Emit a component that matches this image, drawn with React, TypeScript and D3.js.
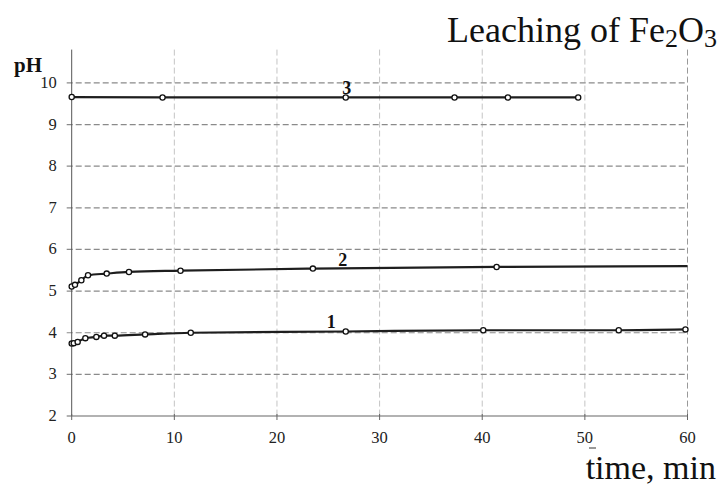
import React from "react";
import * as d3 from "d3";

// ---- data ----
const xTicks = [0, 10, 20, 30, 40, 50, 60];
const yTicks = [2, 3, 4, 5, 6, 7, 8, 9, 10];

const s1Time = [0, 0.2, 0.58, 1.33, 2.4, 3.15, 4.2, 7.15, 11.6, 26.7, 40.1, 53.3, 59.8];
const s1PH = [3.74, 3.75, 3.78, 3.87, 3.9, 3.93, 3.93, 3.96, 4.0, 4.03, 4.06, 4.06, 4.08];
const s1Marker = [true, true, true, true, true, true, true, true, true, true, true, true, true];

const s2Time = [0, 0.32, 0.94, 1.59, 3.41, 5.58, 10.6, 23.5, 41.4, 60];
const s2PH = [5.11, 5.15, 5.26, 5.38, 5.42, 5.46, 5.49, 5.54, 5.58, 5.6];
const s2Marker = [true, true, true, true, true, true, true, true, true, false];

const s3Time = [0, 8.85, 26.7, 37.3, 42.5, 49.35];
const s3PH = [9.66, 9.65, 9.65, 9.65, 9.65, 9.65];
const s3Marker = [true, true, true, true, true, true];

const seriesNames = ["1", "2", "3"];
const labelTime = [25.3, 26.4, 26.8];
const labelPH = [4.26, 5.74, 9.87];

const W = 718;
const H = 490;

function T(props: any) {
  const { children, style, ...rest } = props;
  return (
    <text {...rest} fontFamily="Liberation Serif" style={{ fontFamily: '"Liberation Serif"', ...(style || {}) }}>
      {children}
    </text>
  );
}

export default function App() {
  const x = d3.scaleLinear().domain([0, 60]).range([71.7, 687.5]);
  const y = d3.scaleLinear().domain([2, 10]).range([416, 82.9]);
  const yTop = y(10.8);

  const series = [
    { t: s1Time, v: s1PH, m: s1Marker },
    { t: s2Time, v: s2PH, m: s2Marker },
    { t: s3Time, v: s3PH, m: s3Marker },
  ];

  const line = d3
    .line<[number, number]>()
    .x((d) => x(d[0]))
    .y((d) => y(d[1]))
    .curve(d3.curveMonotoneX);

  return (
    <svg width={W} height={H} style={{ position: "absolute", left: 0, top: 0, background: "#fff" }}>
      <rect x={0} y={0} width={W} height={H} fill="#fff" />
      {/* vertical grid */}
      {xTicks.slice(1).map((t) => (
        <line
          key={"vg" + t}
          x1={x(t)}
          x2={x(t)}
          y1={yTop}
          y2={y(2)}
          stroke={t === 60 ? "#999" : "#c4c4c4"}
          strokeWidth={1}
          strokeDasharray="6,3"
        />
      ))}
      {/* horizontal grid */}
      {yTicks.slice(1).map((t) => (
        <line
          key={"hg" + t}
          x1={x(0) - 5}
          x2={x(60)}
          y1={y(t)}
          y2={y(t)}
          stroke="#8a8a8a"
          strokeWidth={1.2}
          strokeDasharray="6,3"
        />
      ))}
      {/* axes */}
      <line x1={x(0)} x2={x(0)} y1={yTop} y2={y(2)} stroke="#555" strokeWidth={1} />
      <line x1={x(0) - 5} x2={x(60)} y1={y(2)} y2={y(2)} stroke="#666" strokeWidth={1.2} />
      {xTicks.map((t) => (
        <line key={"xt" + t} x1={x(t)} x2={x(t)} y1={y(2) - 2} y2={y(2) + 4} stroke="#666" />
      ))}
      {yTicks.map((t) => (
        <T key={"yl" + t} x={x(0) - 15} y={y(t) + 5} textAnchor="end" fontSize={16.5} fill="#222">
          {t}
        </T>
      ))}
      {xTicks.map((t) => (
        <T key={"xl" + t} x={x(t)} y={443} textAnchor="middle" fontSize={16.5} fill="#222">
          {t}
        </T>
      ))}
      {/* series */}
      {series.map((s, i) => {
        const pts: [number, number][] = s.t.map((tt, j) => [tt, s.v[j]]);
        return (
          <g key={"s" + i}>
            <path d={line(pts) || ""} fill="none" stroke="#1e1e1e" strokeWidth={2.2} />
            {pts.map((p, j) =>
              s.m[j] ? (
                <circle
                  key={j}
                  cx={x(p[0])}
                  cy={y(p[1])}
                  r={2.6}
                  fill="#fff"
                  stroke="#111"
                  strokeWidth={1.3}
                />
              ) : null
            )}
            <T
              x={x(labelTime[i])}
              y={y(labelPH[i]) + 6}
              textAnchor="middle"
              fontWeight="bold"
              fontSize={18}
              fill="#111"
            >
              {seriesNames[i]}
            </T>
          </g>
        );
      })}
      {/* labels */}
      <T x={14} y={72} fontWeight="bold" fontSize={21} fill="#111">
        pH
      </T>
      <T x={717} y={42} textAnchor="end" fontSize={36} fill="#111">
        Leaching of Fe
        <tspan fontSize={26} dy={5}>2</tspan>
        <tspan dy={-5}>O</tspan>
        <tspan fontSize={26} dy={5}>3</tspan>
      </T>
      <line x1={589} x2={596} y1={448} y2={448} stroke="#333" strokeWidth={1} />
      <T x={716} y={479} textAnchor="end" fontSize={34} fill="#111">
        time, min
      </T>
    </svg>
  );
}
